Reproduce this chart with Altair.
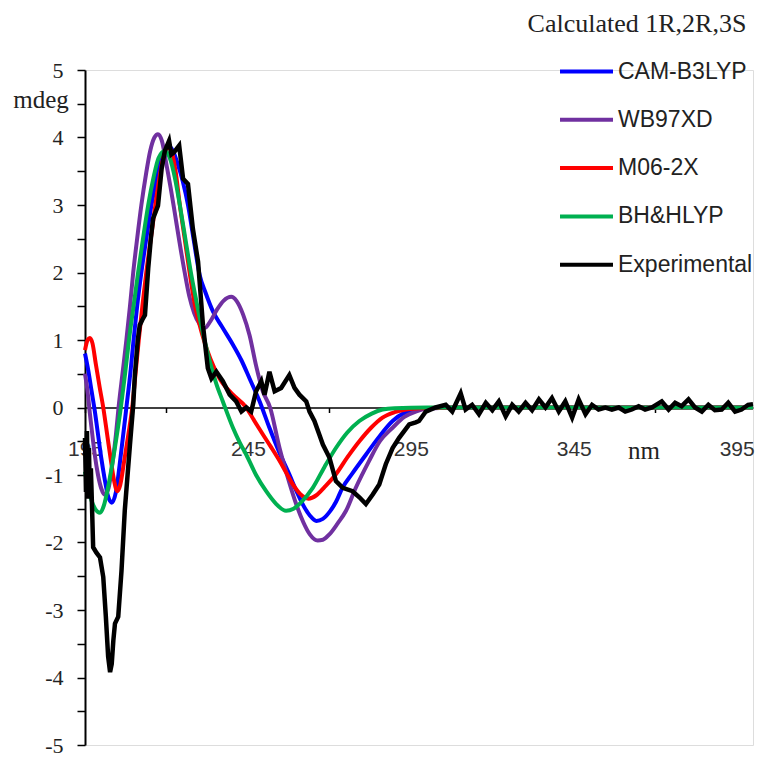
import altair as alt
import pandas as pd

names = ["CAM-B3LYP", "WB97XD", "M06-2X", "BH&HLYP", "Experimental"]
colors = ["#0000FF", "#7030A0", "#FF0000", "#00B050", "#000000"]

cam_nm = [195, 196, 197, 198, 199, 200, 201, 202, 203.2, 204.5, 206, 207.7, 209, 209.8, 211, 212.3,
          213.8, 215.4, 217, 218.5, 220, 220.8, 222, 223.5, 225, 226.6, 228.3, 230.2, 232, 234.3, 237,
          240.4, 243, 245.5, 248.6, 251.6, 254.5, 257.7, 260, 262, 264, 266, 268, 270, 272, 274, 277,
          281.2, 285, 289.4, 293, 296.5, 300, 310, 330, 360, 400]
cam_mdeg = [0.8, 0.55, 0.25, -0.05, -0.4, -0.75, -1.05, -1.3, -1.41, -1.25, -0.7, 0, 0.55, 0.95, 1.5, 2.0,
            2.5, 3.0, 3.4, 3.7, 3.85, 3.87, 3.8, 3.6, 3.35, 3.0, 2.5, 1.96, 1.7, 1.42, 1.2,
            0.93, 0.7, 0.43, 0.09, -0.3, -0.65, -0.99, -1.25, -1.45, -1.6, -1.68, -1.65, -1.55, -1.4, -1.19, -0.98,
            -0.7, -0.45, -0.2, -0.08, -0.03, -0.01, 0, 0, 0, 0]

wb_nm = [195, 196, 196.3, 197, 198, 199, 200, 201.1, 202.2, 203.5, 204.5, 205.3, 206.5, 207.7, 208.8, 209.8,
         211, 212.3, 213.7, 215, 216.3, 217.4, 218.6, 220, 221.3, 222.5, 224, 225.6, 227, 228.5, 230, 231.8,
         233.5, 235.5, 237.5, 239.9, 241.5, 243.5, 245.5, 247.5, 249.5, 251.8, 254.7, 257, 259.8, 262, 264,
         266.4, 268, 270, 272.5, 275.1, 278, 282.2, 285.5, 289.4, 293, 296.5, 300, 310, 330, 360, 400]
wb_mdeg = [0.5, 0.15, 0.0, -0.3, -0.7, -1.0, -1.2, -1.29, -1.2, -0.8, -0.4, 0, 0.5, 1.0, 1.5, 2.0,
           2.5, 3.0, 3.45, 3.8, 4.0, 4.05, 3.95, 3.6, 3.25, 2.9, 2.45, 2.0, 1.65, 1.4, 1.25, 1.18,
           1.28, 1.45, 1.58, 1.64, 1.58, 1.38, 1.07, 0.62, 0.25, 0, -0.6, -1.0, -1.43, -1.7, -1.88,
           -1.97, -1.96, -1.88, -1.72, -1.53, -1.2, -0.79, -0.5, -0.3, -0.14, -0.06, -0.02, 0, 0, 0, 0]

m06_nm = [195, 195.8, 196.5, 197.3, 198.3, 199.5, 200.6, 201.8, 203, 204, 204.9, 205.8, 207, 208.3, 209.5,
          210.5, 211.5, 212.6, 213.8, 215.2, 216.6, 218, 219.3, 220.5, 221.5, 222.8, 224.1, 225.6, 227.1,
          228.6, 230.2, 231.8, 233.5, 236.3, 240.4, 244.5, 247, 249.6, 252, 254.7, 256.8, 258.8, 261, 263.6,
          266, 268.5, 272, 275.5, 279.2, 282.8, 286.3, 290, 293.5, 298, 310, 330, 360, 400]
m06_mdeg = [0.85, 1.0, 1.03, 0.95, 0.65, 0.3, 0, -0.4, -0.8, -1.1, -1.24, -1.15, -0.8, -0.4, 0,
            0.5, 1.0, 1.5, 2.0, 2.5, 3.0, 3.45, 3.75, 3.85, 3.8, 3.5, 3.0, 2.5, 2.0,
            1.55, 1.22, 0.95, 0.72, 0.43, 0.19, 0.0, -0.2, -0.4, -0.58, -0.79, -0.97, -1.14, -1.28, -1.35,
            -1.3, -1.18, -0.99, -0.74, -0.5, -0.3, -0.15, -0.07, -0.03, -0.01, 0, 0, 0, 0]

bh_nm = [195, 196, 197, 198.1, 199.6, 200.8, 202, 203.5, 204.8, 206, 207.3, 208.5, 209.9, 211.3, 212.8,
         214.4, 216, 217.6, 219.5, 221, 222.6, 224.1, 225.8, 227.5, 229.2, 231.2, 233.3, 235.3, 237.3,
         240.4, 242.5, 244.5, 247.5, 250.6, 253.5, 256.7, 259, 261, 264.9, 268.5, 272, 275.5, 279.2, 283,
         286.3, 290, 300, 330, 360, 400]
bh_mdeg = [-0.95, -1.2, -1.38, -1.5, -1.56, -1.45, -1.2, -0.8, -0.4, 0, 0.5, 1.0, 1.5, 2.0, 2.5,
           3.0, 3.4, 3.7, 3.8, 3.7, 3.4, 3.0, 2.5, 2.0, 1.57, 1.1, 0.68, 0.35, 0.09,
           -0.3, -0.52, -0.7, -1.0, -1.24, -1.42, -1.53, -1.5, -1.42, -1.19, -0.88, -0.6, -0.37, -0.2, -0.09,
           -0.03, -0.01, 0, 0, 0, 0]

exp_nm = [195.0, 195.3, 195.6, 195.9, 196.2, 196.5, 196.8, 197.1, 197.5, 198.5,
          199.6, 200.6, 201.4, 202.1, 202.7, 203.2, 203.7, 204.2, 205.2, 206.2,
          207.2, 208.8, 209.8, 210.3, 211.2, 211.8, 212.6, 213.4, 214.4, 215.2,
          215.9, 217.4, 218.5, 219.5, 220.8, 221.5, 222.3, 223.9, 225.1, 226.6,
          228.1, 229.7, 231.2, 232.7, 233.8, 235.3, 237.3, 239.4, 241.4, 243.0,
          244.5, 246.0, 247.5, 249.1, 250.1, 251.6, 253.2, 255.2, 257.7, 259.3,
          260.8, 262.9, 263.9, 265.4, 266.9, 268.0, 270.0, 272.0, 274.1, 277.1,
          279.2, 281.2, 283.3, 285.3, 287.3, 289.4, 291.4, 294.5, 296.5, 297.5,
          299.6, 302.6, 305.7, 307.7, 310.3, 311.8, 313.8, 315.9, 318.0, 320.0,
          322.0, 324.1, 326.1, 328.1, 330.2, 332.2, 334.3, 336.3, 338.3, 340.4,
          342.4, 344.5, 346.5, 348.6, 350.6, 352.6, 354.7, 356.7, 358.8, 360.8,
          362.8, 364.9, 366.9, 369.0, 372.0, 374.1, 376.1, 378.1, 380.2, 382.2,
          384.3, 386.3, 388.3, 390.4, 392.4, 394.5, 396.5, 398.5, 400]
exp_mdeg = [-0.45, -1.25, -0.35, -1.35, -0.6, -1.3, -0.9, -1.38, -2.07, -2.15,
            -2.22, -2.51, -3.1, -3.69, -3.92, -3.8, -3.45, -3.2, -3.1, -2.42,
            -1.53, -0.55, 0.04, 0.48, 1.0, 1.22, 1.3, 1.37, 2.06, 2.5,
            2.80, 2.99, 3.53, 3.8, 3.95, 3.75, 3.78, 3.88, 3.39, 3.31,
            2.65, 2.16, 1.22, 0.58, 0.43, 0.53, 0.39, 0.19, 0.09, -0.06,
            0.0, -0.06, 0.24, 0.39, 0.19, 0.53, 0.24, 0.29, 0.48, 0.29,
            0.19, 0.09, -0.06, -0.2, -0.4, -0.55, -0.74, -1.09, -1.19, -1.24,
            -1.33, -1.43, -1.29, -1.14, -0.84, -0.6, -0.45, -0.25, -0.22, -0.2,
            -0.06, 0.0, 0.04, -0.06, 0.21, -0.03, 0.04, -0.1, 0.07, -0.04,
            0.09, -0.13, 0.04, -0.06, 0.07, -0.04, 0.12, 0.0, 0.14, -0.06,
            0.09, -0.15, 0.12, -0.1, 0.04, -0.03, 0.0, -0.03, 0.0, -0.06,
            -0.03, 0.02, -0.03, 0.0, 0.09, -0.03, 0.07, 0.02, 0.12, 0.0,
            -0.06, 0.04, -0.04, -0.03, 0.07, -0.06, -0.03, 0.04, 0.05]

x_ticks = [195, 220, 245, 270, 295, 320, 345, 370, 395]
y_ticks = [-5, -4.5, -4, -3.5, -3, -2.5, -2, -1.5, -1, -0.5, 0, 0.5, 1, 1.5, 2, 2.5, 3, 3.5, 4, 4.5, 5]

series = [("CAM-B3LYP", cam_nm, cam_mdeg), ("WB97XD", wb_nm, wb_mdeg), ("M06-2X", m06_nm, m06_mdeg),
          ("BH&HLYP", bh_nm, bh_mdeg), ("Experimental", exp_nm, exp_mdeg)]
rows = []
for name, xs, ys in series:
    assert len(xs) == len(ys), name
    for x, y in zip(xs, ys):
        rows.append({"nm": x, "mdeg": y, "series": name})
df = pd.DataFrame(rows)

W, H = 668, 675

x_enc = alt.X("nm:Q", scale=alt.Scale(domain=[195, 400], nice=False, zero=False),
              axis=alt.Axis(values=x_ticks, title=None, offset=-H / 2, grid=False,
                            labelExpr="(datum.value - 195) % 50 == 0 ? toString(datum.value) : ''",
                            labelFont="Liberation Sans", labelFontSize=21, labelColor="#333",
                            labelPadding=26, tickSize=5, tickColor="#000", tickWidth=1.5,
                            domainColor="#000", domainWidth=1.5, labelFlush=False, labelOverlap=False))
y_enc = alt.Y("mdeg:Q", scale=alt.Scale(domain=[-5, 5], nice=False),
              axis=alt.Axis(values=y_ticks, title=None, grid=False,
                            labelExpr="datum.value % 1 == 0 ? toString(datum.value) : ''",
                            labelFont="Liberation Serif", labelFontSize=22, labelColor="#222",
                            labelPadding=14, tickSize=8, tickColor="#000", tickWidth=1.5,
                            domainColor="#000", domainWidth=2, labelOverlap=False))
color_enc = alt.Color("series:N", scale=alt.Scale(domain=names, range=colors), sort=names,
                      legend=alt.Legend(title=None, orient="none", legendX=486, legendY=-14,
                                        symbolType="M-2,0H2", symbolSize=702, symbolStrokeWidth=4,
                                        labelFont="Liberation Sans", labelFontSize=23, labelColor="#222",
                                        labelOffset=16, rowPadding=20.3, padding=0, labelLimit=300))

base = alt.Chart(df)
calc = base.transform_filter(alt.datum.series != "Experimental").mark_line(
    strokeWidth=4, interpolate="monotone").encode(x=x_enc, y=y_enc, color=color_enc, detail="series:N")
expt = base.transform_filter(alt.datum.series == "Experimental").mark_line(
    strokeWidth=4.5).encode(x=x_enc, y=y_enc, color=color_enc)

def label(txt, px, py, size, align="center"):
    return alt.Chart(pd.DataFrame({"t": [txt]})).mark_text(
        font="Liberation Serif", fontSize=size, color="#222", align=align, baseline="middle"
    ).encode(text="t:N", x=alt.value(px), y=alt.value(py))

chart = alt.layer(
    calc, expt,
    label("mdeg", -44, 30, 25),
    label("nm", 559, 381, 25),
    label("Calculated 1R,2R,3S", 552, -46, 26),
).properties(
    width=W, height=H,
    padding={"left": 77, "top": 62, "right": 2, "bottom": 13},
    autosize=alt.AutoSizeParams(type="none"),
).configure_view(stroke=None).configure(background="white")

chart.save("out.html", embed_options={"renderer": "svg", "actions": False})
